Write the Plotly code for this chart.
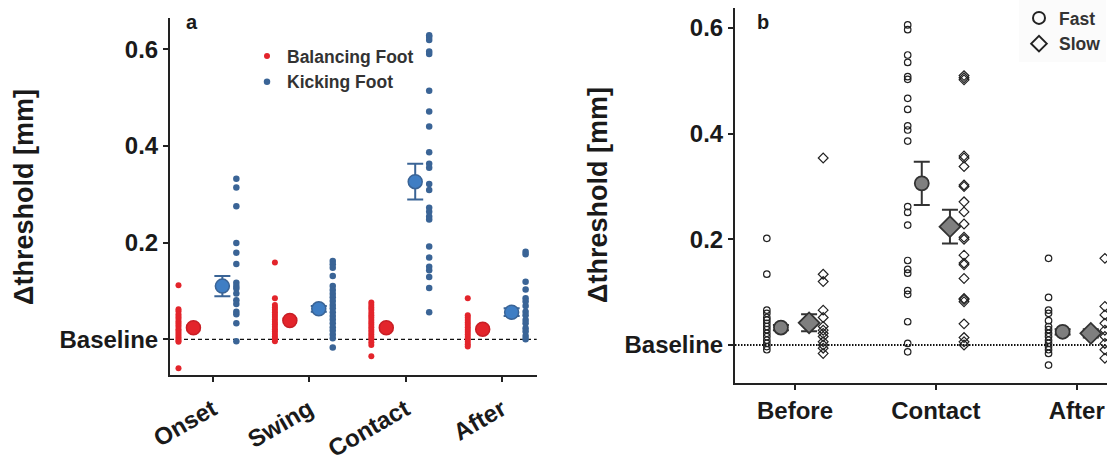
import plotly.graph_objects as go

W, H = 1107, 465

# ---------------- Panel a data ----------------
cats_a = ["Onset", "Swing", "Contact", "After"]
balancing = [
    [0.112, 0.062, 0.058, 0.052, 0.047, 0.043, 0.038, 0.034, 0.030, 0.026, 0.021, 0.017, 0.013, 0.009, 0.005, 0.001, -0.003, -0.005, -0.060],
    [0.159, 0.085, 0.071, 0.066, 0.061, 0.056, 0.051, 0.046, 0.041, 0.036, 0.031, 0.026, 0.021, 0.016, 0.011, 0.006, 0.001, -0.004],
    [0.076, 0.071, 0.066, 0.061, 0.055, 0.050, 0.045, 0.040, 0.035, 0.030, 0.025, 0.020, 0.015, 0.010, 0.005, 0.000, -0.006, -0.012, -0.035],
    [0.085, 0.050, 0.045, 0.040, 0.035, 0.030, 0.025, 0.020, 0.015, 0.010, 0.005, 0.000, -0.005, -0.010, -0.015],
]
kicking = [
    [0.332, 0.314, 0.275, 0.199, 0.179, 0.156, 0.117, 0.110, 0.105, 0.095, 0.081, 0.073, 0.057, 0.052, 0.033, -0.004],
    [0.162, 0.155, 0.148, 0.131, 0.110, 0.102, 0.094, 0.087, 0.079, 0.071, 0.064, 0.056, 0.048, 0.041, 0.033, 0.025, 0.018, 0.010, 0.002, -0.017],
    [0.629, 0.625, 0.619, 0.595, 0.590, 0.514, 0.471, 0.440, 0.387, 0.363, 0.355, 0.321, 0.309, 0.272, 0.264, 0.254, 0.248, 0.192, 0.169, 0.150, 0.143, 0.129, 0.106, 0.056],
    [0.181, 0.176, 0.119, 0.103, 0.085, 0.078, 0.069, 0.057, 0.050, 0.040, 0.033, 0.023, 0.016, 0.007, 0.000],
]
bal_mean = [0.024, 0.039, 0.024, 0.021]
bal_err = [0.005, 0.005, 0.005, 0.005]
kick_mean = [0.110, 0.063, 0.326, 0.056]
kick_err = [0.021, 0.006, 0.037, 0.008]

# ---------------- Panel b data ----------------
cats_b = ["Before", "Contact", "After"]
fast = [
    [0.202, 0.134, 0.066, 0.060, 0.052, 0.047, 0.041, 0.035, 0.029, 0.022, 0.016, 0.009, 0.003, -0.003, -0.009],
    [0.606, 0.597, 0.549, 0.535, 0.508, 0.503, 0.467, 0.446, 0.415, 0.407, 0.386, 0.262, 0.251, 0.227, 0.160, 0.143, 0.136, 0.103, 0.096, 0.044, 0.003, -0.013],
    [0.164, 0.090, 0.066, 0.060, 0.046, 0.035, 0.029, 0.022, 0.016, 0.009, 0.003, -0.003, -0.009, -0.016, -0.038],
]
slow = [
    [0.354, 0.134, 0.120, 0.066, 0.052, 0.035, 0.028, 0.022, 0.016, 0.006, 0.000, -0.006, -0.016],
    [0.510, 0.506, 0.502, 0.358, 0.354, 0.338, 0.303, 0.300, 0.271, 0.252, 0.229, 0.204, 0.200, 0.170, 0.155, 0.152, 0.126, 0.088, 0.086, 0.082, 0.040, 0.014, 0.006, 0.000],
    [0.164, 0.073, 0.057, 0.041, 0.028, 0.016, 0.003, -0.009, -0.025],
]
fast_mean = [0.033, 0.306, 0.025]
fast_err = [0.005, 0.041, 0.005]
slow_mean = [0.042, 0.224, 0.022]
slow_err = [0.016, 0.032, 0.008]

ytick_vals = [0, 0.2, 0.4, 0.6]
ytick_text = ["Baseline", "0.2", "0.4", "0.6"]

# ---------------- helpers ----------------
def spread(groups, off):
    xs, ys = [], []
    for i, vals in enumerate(groups):
        xs += [i + 1 + off] * len(vals)
        ys += list(vals)
    return xs, ys

def pos(n, off):
    return [i + 1 + off for i in range(n)]

RED = "#e3242b"
BLUE = "#3a6496"
BLUE_M = "#3f7ec4"
DARK = "#222222"
FONT = "Liberation Sans, Arial, sans-serif"

fig = go.Figure()

# Panel a dots
x, y = spread(balancing, -0.355)
fig.add_trace(go.Scatter(x=x, y=y, mode="markers", name="Balancing Foot",
                         marker=dict(color=RED, size=6), xaxis="x", yaxis="y", legend="legend"))
x, y = spread(kicking, 0.245)
fig.add_trace(go.Scatter(x=x, y=y, mode="markers", name="Kicking Foot",
                         marker=dict(color=BLUE, size=6.5), xaxis="x", yaxis="y", legend="legend"))
# Panel a means
fig.add_trace(go.Scatter(x=pos(4, -0.2), y=bal_mean, mode="markers", showlegend=False,
                         marker=dict(color=RED, size=14, line=dict(color="#c81e25", width=1.5)),
                         error_y=dict(type="data", array=bal_err, color="#ee8a70", thickness=2, width=7),
                         xaxis="x", yaxis="y"))
fig.add_trace(go.Scatter(x=pos(4, 0.1), y=kick_mean, mode="markers", showlegend=False,
                         marker=dict(color=BLUE_M, size=14, line=dict(color=BLUE, width=1.5)),
                         error_y=dict(type="data", array=kick_err, color=BLUE, thickness=2, width=8),
                         xaxis="x", yaxis="y"))

# Panel b dots
x, y = spread(fast, -0.2)
fig.add_trace(go.Scatter(x=x, y=y, mode="markers", name="Fast",
                         marker=dict(symbol="circle-open", color=DARK, size=6.5, line=dict(width=1.2)),
                         xaxis="x2", yaxis="y2", legend="legend2", cliponaxis=True))
x, y = spread(slow, 0.2)
fig.add_trace(go.Scatter(x=x, y=y, mode="markers", name="Slow",
                         marker=dict(symbol="diamond-open", color=DARK, size=7.5, line=dict(width=1.2)),
                         xaxis="x2", yaxis="y2", legend="legend2", cliponaxis=True))
# Panel b means
fig.add_trace(go.Scatter(x=pos(3, -0.1), y=fast_mean, mode="markers", showlegend=False,
                         marker=dict(symbol="circle", color="#7f7f7f", size=14, line=dict(color="#333333", width=1.8)),
                         error_y=dict(type="data", array=fast_err, color="#333333", thickness=2, width=8),
                         xaxis="x2", yaxis="y2"))
fig.add_trace(go.Scatter(x=pos(3, 0.1), y=slow_mean, mode="markers", showlegend=False,
                         marker=dict(symbol="diamond", color="#7f7f7f", size=16, line=dict(color="#333333", width=1.8)),
                         error_y=dict(type="data", array=slow_err, color="#333333", thickness=2, width=8),
                         xaxis="x2", yaxis="y2"))

axis_common = dict(showline=True, linecolor=DARK, linewidth=2, ticks="outside", ticklen=5,
                   tickwidth=2, tickcolor=DARK, showgrid=False, zeroline=False, automargin=False,
                   tickfont=dict(family=FONT, size=24, color="#1a1a1a", weight="bold"))

fig.update_layout(
    width=W, height=H,
    margin=dict(l=0, r=0, t=0, b=0, autoexpand=False),
    paper_bgcolor="white", plot_bgcolor="white",
    font=dict(family=FONT, color=DARK),
    xaxis=dict(domain=[170 / W, 536.7 / W], range=[0.557, 4.36], tickvals=[1, 2, 3, 4],
               ticktext=cats_a, tickangle=-30, anchor="y", ticklabelstandoff=4, **axis_common),
    yaxis=dict(domain=[1 - 375 / H, 1 - 18 / H], range=[-0.0738, 0.6645], tickvals=ytick_vals,
               ticktext=ytick_text, anchor="x", **axis_common),
    xaxis2=dict(domain=[735 / W, 1.0], range=[0.574, 3.215], tickvals=[1, 2, 3],
                ticktext=cats_b, tickangle=0, anchor="y2", **axis_common),
    yaxis2=dict(domain=[1 - 382.7 / H, 1 - 8 / H], range=[-0.0714, 0.638], tickvals=ytick_vals,
                ticktext=ytick_text, anchor="x2", **axis_common),
    legend=dict(x=247 / W, y=1 - 38 / H, xanchor="left", yanchor="top", bgcolor="rgba(0,0,0,0)",
                font=dict(family=FONT, size=17.5, color="#333333", weight="bold"),
                itemwidth=30, tracegroupgap=0),
    legend2=dict(x=1019 / W, y=1.0, xanchor="left", yanchor="top", bgcolor="#fbfbfb",
                 font=dict(family=FONT, size=17.5, color="#333333", weight="bold"),
                 itemsizing="constant", itemwidth=30, tracegroupgap=0),
    shapes=[
        dict(type="line", xref="x domain", yref="y", x0=0, x1=1, y0=0, y1=0,
             line=dict(color="#111111", width=1.3, dash="4px,3px"), layer="below"),
        dict(type="line", xref="x2 domain", yref="y2", x0=0, x1=1, y0=0, y1=0,
             line=dict(color="#111111", width=1.8, dash="1.5px,1.5px"), layer="below"),
    ],
    annotations=[
        dict(text="Δthreshold [mm]", x=24 / W, y=1 - 197 / H, xref="paper", yref="paper",
             xanchor="center", yanchor="middle",
             textangle=-90, showarrow=False, font=dict(family=FONT, size=27, color="#1a1a1a", weight="bold")),
        dict(text="Δthreshold [mm]", x=598 / W, y=1 - 195 / H, xref="paper", yref="paper",
             xanchor="center", yanchor="middle",
             textangle=-90, showarrow=False, font=dict(family=FONT, size=27, color="#1a1a1a", weight="bold")),
        dict(text="a", x=192 / W, y=1 - 22 / H, xref="paper", yref="paper", showarrow=False,
             xanchor="center", yanchor="middle",
             font=dict(family=FONT, size=20, color="#1a1a1a", weight="bold")),
        dict(text="b", x=763 / W, y=1 - 22 / H, xref="paper", yref="paper", showarrow=False,
             xanchor="center", yanchor="middle",
             font=dict(family=FONT, size=20, color="#1a1a1a", weight="bold")),
    ],
)

fig.write_html("out.html")
